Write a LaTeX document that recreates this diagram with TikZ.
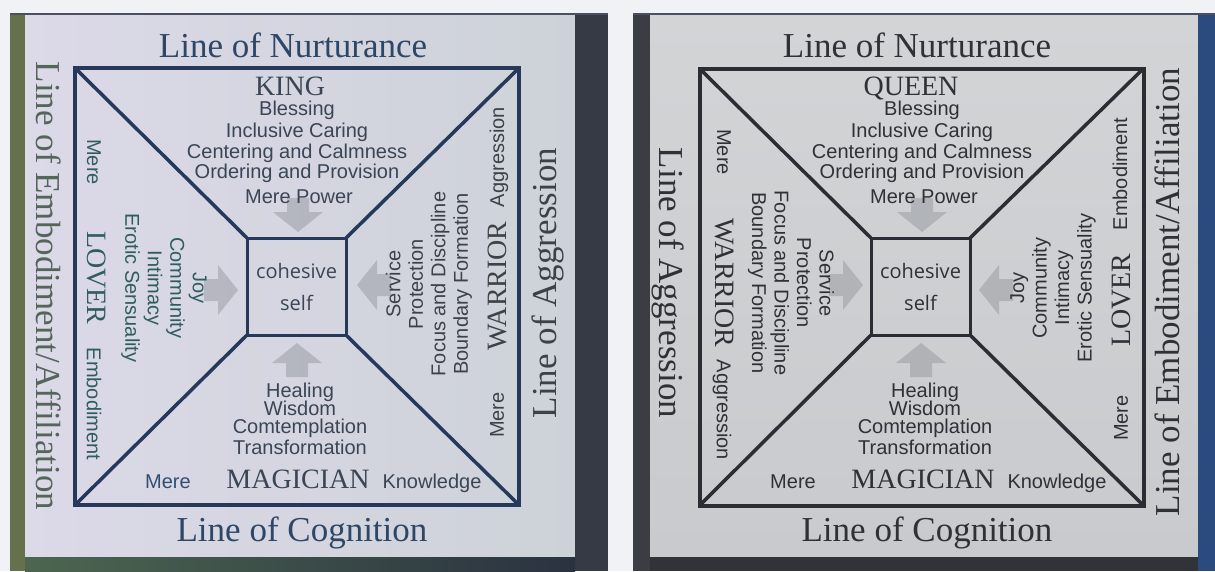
\documentclass[tikz,border=0pt]{standalone}
\usepackage{fontspec}
\setmainfont{Liberation Serif}
\setsansfont{Liberation Sans}
\newfontfamily\humfont{Open Sans}
\definecolor{bgwhite}{HTML}{F1F2F6}
\definecolor{Lleft}{HTML}{65704C}
\definecolor{Lright}{HTML}{363A44}
\definecolor{Lbota}{HTML}{4C6650}
\definecolor{Lbotb}{HTML}{2A3240}
\definecolor{Lfilla}{HTML}{DCD9E8}
\definecolor{Lfillb}{HTML}{CDD2D8}
\definecolor{Lline}{HTML}{26395A}
\definecolor{Ltitle}{HTML}{2E4766}
\definecolor{Lembc}{HTML}{56655A}
\definecolor{Laggc}{HTML}{3E4248}
\definecolor{Ltxt}{HTML}{3A4555}
\definecolor{Lgreen}{HTML}{2F5D5F}
\definecolor{Lblue}{HTML}{2F4F73}
\definecolor{Rleft}{HTML}{3A3D44}
\definecolor{Rright}{HTML}{2B4A7E}
\definecolor{Rbot}{HTML}{303338}
\definecolor{Rfilla}{HTML}{D3D4D6}
\definecolor{Rfillb}{HTML}{C9CACD}
\definecolor{Rline}{HTML}{2A2D33}
\definecolor{Rtxt}{HTML}{2F3136}
\definecolor{topline}{HTML}{4A5060}
\definecolor{arrowfill}{HTML}{8E9298}
\begin{document}
\begin{tikzpicture}[x=1pt,y=-1pt,
  ttl/.style={font=\fontsize{35}{40}\selectfont, inner sep=0pt, outer sep=0pt},
  arch/.style={font=\fontsize{28}{32}\selectfont, inner sep=0pt, outer sep=0pt},
  attr/.style={font=\sffamily\fontsize{20}{22.5}\selectfont, inner sep=0pt, outer sep=0pt, align=center},
  core/.style={font=\humfont\fontsize{20}{32}\selectfont, align=center},
  sq/.style={draw, line width=4pt, minimum width=444pt, minimum height=437pt, inner sep=0pt, outer sep=0pt},
  cbox/.style={draw, line width=3pt, minimum width=99pt, minimum height=97pt, inner sep=0pt, outer sep=0pt},
  ray/.style={line width=3.5pt},
  garrow/.pic={\fill[arrowfill, opacity=.45] (0,0) -- (-25,-20) -- (-11,-20) -- (-11,-34) -- (11,-34) -- (11,-20) -- (25,-20) -- cycle;}
]
\useasboundingbox (0,0) rectangle (1215,571);
\fill[bgwhite] (0,0) rectangle (1215,571);
% ---------- left panel frame
\fill[Lleft] (10,13) rectangle (25,571);
\shade[left color=Lfilla, right color=Lfillb] (25,15) rectangle (575,557);
\fill[Lright] (575,13) rectangle (608,571);
\shade[left color=Lbota, right color=Lbotb] (25,557) rectangle (575,571);
\draw[topline, line width=1.5pt] (10,13.75) -- (608,13.75);
% ---------- right panel frame
\fill[Rleft] (633,13) rectangle (650,571);
\shade[top color=Rfilla, bottom color=Rfillb] (650,15) rectangle (1198,557);
\fill[Rright] (1198,13) rectangle (1215,571);
\fill[Rbot] (650,557) rectangle (1198,571);
\draw[topline, line width=1.5pt] (633,13.75) -- (1215,13.75);
% ---------- faded arrows
\pic at (298,232) {garrow};
\pic[rotate=90] at (238,290) {garrow};
\pic[rotate=-90] at (357,285) {garrow};
\pic[rotate=180] at (297,343) {garrow};
\pic at (922,232) {garrow};
\pic[rotate=90] at (863,285) {garrow};
\pic[rotate=-90] at (979,290) {garrow};
\pic[rotate=180] at (921,343) {garrow};
% ---------- left panel structure
\node[sq, draw=Lline] (Lsq) at (297,286.5) {};
\node[cbox, draw=Lline, core, text=Ltxt] (Lcore) at (296.5,286.5) {cohesive\\self};
\draw[ray, Lline] (Lsq.north west) -- (Lcore.north west);
\draw[ray, Lline] (Lsq.north east) -- (Lcore.north east);
\draw[ray, Lline] (Lsq.south west) -- (Lcore.south west);
\draw[ray, Lline] (Lsq.south east) -- (Lcore.south east);
% ---------- right panel structure
\node[sq, draw=Rline] (Rsq) at (921.5,287) {};
\node[cbox, draw=Rline, core, text=Rtxt] (Rcore) at (920.5,286.5) {cohesive\\self};
\draw[ray, Rline] (Rsq.north west) -- (Rcore.north west);
\draw[ray, Rline] (Rsq.north east) -- (Rcore.north east);
\draw[ray, Rline] (Rsq.south west) -- (Rcore.south west);
\draw[ray, Rline] (Rsq.south east) -- (Rcore.south east);
% ---------- left panel titles
\node[ttl, anchor=base, text=Ltitle] (Lnurt) at (293,57) {Line of Nurturance};
\node[ttl, anchor=base, text=Ltitle] (Lcog) at (302,541) {Line of Cognition};
\node[ttl, rotate=-90, text=Lembc] (Lembl) at (49,286) {Line of Embodiment/Affiliation};
\node[ttl, rotate=90, text=Laggc] (Laggl) at (548,283) {Line of Aggression};
% ---------- left King
\begin{scope}[every node/.append style={text=Ltxt}]
\node[arch, anchor=base] (Lking) at (290,95) {KING};
\node[attr, anchor=base] (Lk1) at (297,115.5) {Blessing};
\node[attr, anchor=base] (Lk2) at (297,137) {Inclusive Caring};
\node[attr, anchor=base] (Lk3) at (297,158) {Centering and Calmness};
\node[attr, anchor=base] (Lk4) at (297,178) {Ordering and Provision};
\node[attr, anchor=base] (Lk5) at (299,203) {Mere Power};
% left Magician
\node[attr, anchor=base] (Lm1) at (300,397) {Healing};
\node[attr, anchor=base] (Lm2) at (300,415) {Wisdom};
\node[attr, anchor=base] (Lm3) at (300,433) {Comtemplation};
\node[attr, anchor=base] (Lm4) at (300,454) {Transformation};
\node[arch, anchor=base] (Lmag) at (298,488) {MAGICIAN};
\node[attr, anchor=base, text=Lblue] (Lmere3) at (168,488) {Mere};
\node[attr, anchor=base] (Lknow) at (432,488) {Knowledge};
% left Warrior
\node[attr, rotate=90, text=Laggc] (Lwar) at (429,284) {Service\\Protection\\Focus and Discipline\\Boundary Formation};
\node[attr, rotate=90, text=Laggc] (Lagg) at (499,157) {Aggression};
\node[arch, rotate=90, text=Laggc] (Lwarrior) at (497,286) {WARRIOR};
\node[attr, rotate=90, text=Laggc] (Lmere2) at (497,415) {Mere};
% left Lover
\node[attr, rotate=-90, text=Lgreen] (Llov) at (164,288) {Joy\\Community\\Intimacy\\Erotic Sensuality};
\node[attr, rotate=-90, text=Lgreen] (Lmere1) at (94,162) {Mere};
\node[arch, rotate=-90, text=Lgreen] (Llover) at (97,278) {LOVER};
\node[attr, rotate=-90, text=Lgreen] (Lemb) at (94,404) {Embodiment};
\end{scope}
% ---------- right panel texts
\begin{scope}[every node/.append style={text=Rtxt}]
\node[ttl, anchor=base] (Rnurt) at (917,57) {Line of Nurturance};
\node[ttl, anchor=base] (Rcog) at (927,541) {Line of Cognition};
\node[ttl, rotate=-90] (Raggl) at (668,283) {Line of Aggression};
\node[ttl, rotate=90] (Rembl) at (1167,292) {Line of Embodiment/Affiliation};
% Queen
\node[arch, anchor=base] (Rqueen) at (911,95) {QUEEN};
\node[attr, anchor=base] (Rq1) at (922,115.5) {Blessing};
\node[attr, anchor=base] (Rq2) at (922,137) {Inclusive Caring};
\node[attr, anchor=base] (Rq3) at (922,158) {Centering and Calmness};
\node[attr, anchor=base] (Rq4) at (922,178) {Ordering and Provision};
\node[attr, anchor=base] (Rq5) at (924,203) {Mere Power};
% Magician
\node[attr, anchor=base] (Rm1) at (925,397) {Healing};
\node[attr, anchor=base] (Rm2) at (925,415) {Wisdom};
\node[attr, anchor=base] (Rm3) at (925,433) {Comtemplation};
\node[attr, anchor=base] (Rm4) at (925,454) {Transformation};
\node[arch, anchor=base] (Rmag) at (923,488) {MAGICIAN};
\node[attr, anchor=base] (Rmere3) at (793,488) {Mere};
\node[attr, anchor=base] (Rknow) at (1057,488) {Knowledge};
% Warrior
\node[attr, rotate=-90] (Rwar) at (791,283) {Service\\Protection\\Focus and Discipline\\Boundary Formation};
\node[attr, rotate=-90] (Rmere1) at (724,152) {Mere};
\node[arch, rotate=-90] (Rwarrior) at (725,283) {WARRIOR};
\node[attr, rotate=-90] (Ragg) at (722,410) {Aggression};
% Lover
\node[attr, rotate=90] (Rlov) at (1053,288) {Joy\\Community\\Intimacy\\Erotic Sensuality};
\node[attr, rotate=90] (Remb) at (1120,174) {Embodiment};
\node[arch, rotate=90] (Rlover) at (1121,300) {LOVER};
\node[attr, rotate=90] (Rmere2) at (1121,418) {Mere};
\end{scope}
\end{tikzpicture}
\end{document}
